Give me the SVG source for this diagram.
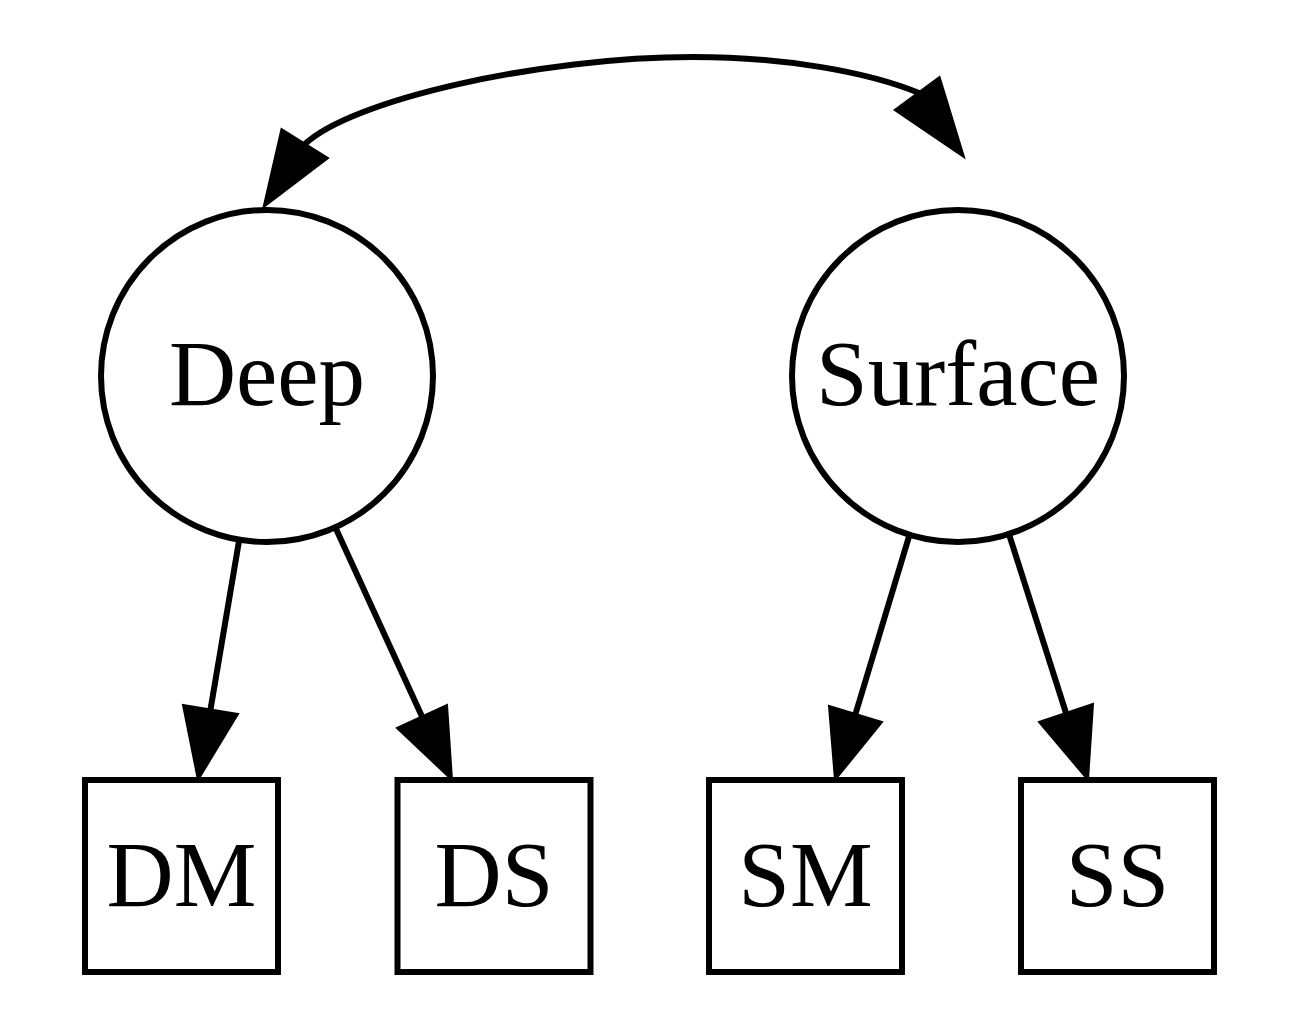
<svg xmlns="http://www.w3.org/2000/svg" width="1296" height="1026" viewBox="0 0 1296 1026">
<style>
.shape{fill:none;stroke:#000;stroke-width:6}
.edge{fill:none;stroke:#000;stroke-width:6}
.head{fill:#000;stroke:#000;stroke-width:2;stroke-linejoin:miter}
.lbl{font-family:"Liberation Serif","Times New Roman",serif;font-size:93px;text-anchor:middle;fill:#000}
</style>
<rect width="1296" height="1026" fill="#fff"/>
<g id="connectors">
<path class="edge" d="M304,145 C350,100 540,57 693,57 C785,57 868,72 919,93"/>
<polygon class="head" points="281.5,129 328,158 263.6,207"/>
<polygon class="head" points="939.5,77 894.7,110 964,157"/>
<path class="edge" d="M239,541 L210.5,709.5"/>
<polygon class="head" points="183,705 238,714 198,780"/>
<path class="edge" d="M335.3,527.2 L422,716.5"/>
<polygon class="head" points="397,728 447,705 452,780"/>
<path class="edge" d="M909.8,533.8 L855.5,714"/>
<polygon class="head" points="829,706 882,722 835,780"/>
<path class="edge" d="M1008.8,533.6 L1066,713"/>
<polygon class="head" points="1039,722 1093,704 1088,780"/>
</g>
<g id="Deep">
<circle class="shape" cx="267" cy="376" r="166"/>
<text class="lbl" x="267" y="405">Deep</text>
</g>
<g id="Surface">
<circle class="shape" cx="958" cy="376" r="166"/>
<text class="lbl" x="958" y="405">Surface</text>
</g>
<g id="DM">
<rect class="shape" x="85" y="780" width="193" height="192"/>
<text class="lbl" x="181.5" y="906">DM</text>
</g>
<g id="DS">
<rect class="shape" x="397.5" y="780" width="193" height="192"/>
<text class="lbl" x="494" y="906">DS</text>
</g>
<g id="SM">
<rect class="shape" x="709" y="780" width="193" height="192"/>
<text class="lbl" x="805.5" y="906">SM</text>
</g>
<g id="SS">
<rect class="shape" x="1021" y="780" width="193" height="192"/>
<text class="lbl" x="1117.5" y="906">SS</text>
</g>
</svg>
